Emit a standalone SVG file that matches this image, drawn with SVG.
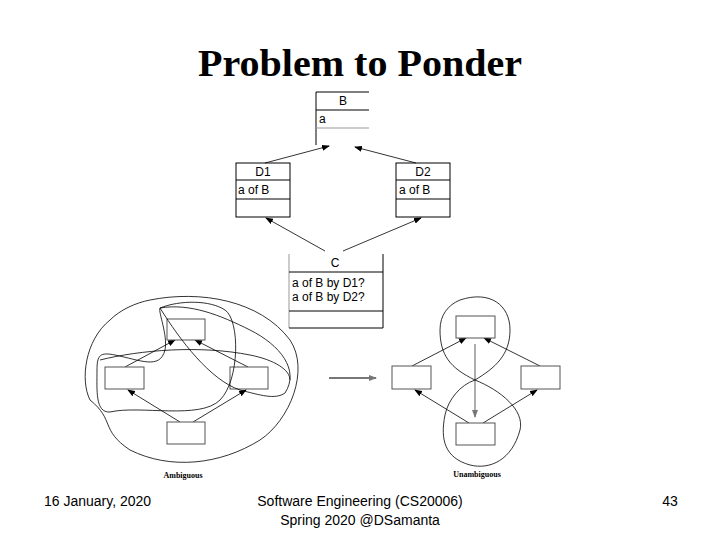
<svg xmlns="http://www.w3.org/2000/svg" width="720" height="540" viewBox="0 0 720 540">
<style>
.t{font-family:"Liberation Sans",Arial,sans-serif;font-size:12px;fill:#000}
.f{font-family:"Liberation Sans",Arial,sans-serif;font-size:14px;fill:#000}
.b{fill:#fff;stroke:#000;stroke-width:1}
.l{stroke:#000;stroke-width:1;fill:none}
.g{stroke:#999;stroke-width:1;fill:none}
.c{stroke:#000;stroke-width:0.8;fill:none}
.a{stroke:#000;stroke-width:0.8;fill:none;marker-end:url(#ah)}
.s{font-family:"Liberation Serif",serif;font-size:8px;font-weight:bold;fill:#000}
.r{fill:#fff;stroke:#555;stroke-width:1}
</style>
<defs>
<marker id="ah" markerWidth="8" markerHeight="6" refX="7" refY="3" orient="auto" markerUnits="userSpaceOnUse"><path d="M0,0L8,3L0,6z" fill="#000"/></marker>
<marker id="ah2" markerWidth="8" markerHeight="6" refX="7" refY="3" orient="auto" markerUnits="userSpaceOnUse"><path d="M0,0L8,3L0,6z" fill="#777"/></marker>
</defs>
<rect width="720" height="540" fill="#fff"/>
<text x="360" y="76" text-anchor="middle" font-family="Liberation Serif,serif" font-weight="bold" font-size="38" textLength="324" lengthAdjust="spacingAndGlyphs">Problem to Ponder</text>
<g id="B"><path class="l" d="M316,145V92H369M316,110H369"/><path class="g" d="M316,128H369"/><text class="t" x="343" y="105" text-anchor="middle">B</text><text class="t" x="319" y="123">a</text></g>
<g id="D1"><rect class="b" x="236" y="163" width="54" height="54"/><path class="l" d="M236,180H290M236,199H290"/><text class="t" x="263" y="176" text-anchor="middle">D1</text><text class="t" x="238" y="194">a of B</text></g>
<g id="D2"><rect class="b" x="396" y="163" width="54" height="54"/><path class="l" d="M396,180H450M396,199H450"/><text class="t" x="423" y="176" text-anchor="middle">D2</text><text class="t" x="399" y="194">a of B</text></g>
<g id="C"><path class="g" d="M289,254V328"/><path class="l" d="M383,254V328H289M289,272H383M289,311H383"/><text class="t" x="335" y="267" text-anchor="middle">C</text><text class="t" x="292" y="287">a of B by D1?</text><text class="t" x="292" y="301">a of B by D2?</text></g>
<g id="connectors">
<path class="a" d="M265,163L329,146"/><path class="a" d="M416,163L355,147"/>
<path class="a" d="M325,251L266,218"/><path class="a" d="M343,251L421,218"/>
<path class="a" d="M125,367L175,340"/><path class="a" d="M248,367L195,340"/>
<path class="a" d="M180,422L128,390"/><path class="a" d="M193,422L246,390"/>
<path class="a" d="M412,366L466,338"/><path class="a" d="M540,366L484,338"/>
<path class="a" d="M469,423L415,390"/><path class="a" d="M483,423L537,390"/>
<path d="M475,344V417" stroke="#777" stroke-width="1.2" marker-end="url(#ah2)"/>
<path d="M329,378H376" stroke="#777" stroke-width="2" marker-end="url(#ah2)"/>
</g>
<g id="amb">
<rect class="r" x="167" y="319" width="38" height="21"/><rect class="r" x="105" y="367" width="39" height="22"/><rect class="r" x="230" y="367" width="38" height="22"/><rect class="r" x="167" y="422" width="38" height="22"/>
<path class="c" d="M150,300C200,290,260,300,290,340C310,370,290,420,260,440C220,465,170,470,130,450C100,430,115,420,90,400C80,380,85,340,110,320C120,310,135,303,150,300Z"/>
<path class="c" d="M160,308C180,300,210,300,225,310C240,320,240,380,220,400C200,420,140,405,110,412C95,413,97,390,97,370C97,355,100,352,115,355C140,360,160,370,165,350C168,335,158,312,160,308Z"/>
<path class="c" d="M160,308C190,303,220,315,250,330C280,345,300,370,285,393C275,400,260,395,240,390C210,380,180,340,160,308Z"/>
<path class="c" d="M100,360C140,350,200,345,250,355C275,360,290,370,290,380"/>
<text class="s" x="183" y="478" text-anchor="middle">Ambiguous</text>
</g>
<g id="unamb">
<rect class="r" x="456" y="316" width="39" height="22"/><rect class="r" x="392" y="366" width="39" height="23"/><rect class="r" x="521" y="366" width="39" height="23"/><rect class="r" x="456" y="423" width="39" height="22"/>
<path class="c" d="M460,300C490,290,510,305,510,330C510,355,495,368,475,380C450,368,440,355,440,330C440,315,448,305,460,300Z"/>
<path class="c" d="M475,380C500,390,525,410,520,430C512,460,490,470,470,465C445,458,440,440,445,415C448,400,460,385,475,380Z"/>
<text class="s" x="477" y="477" text-anchor="middle">Unambiguous</text>
</g>
<text class="f" x="44" y="506">16 January, 2020</text>
<text class="f" x="360" y="506" text-anchor="middle">Software Engineering (CS20006)</text>
<text class="f" x="360" y="525" text-anchor="middle">Spring 2020 @DSamanta</text>
<text class="f" x="670" y="506" text-anchor="middle">43</text>
</svg>
